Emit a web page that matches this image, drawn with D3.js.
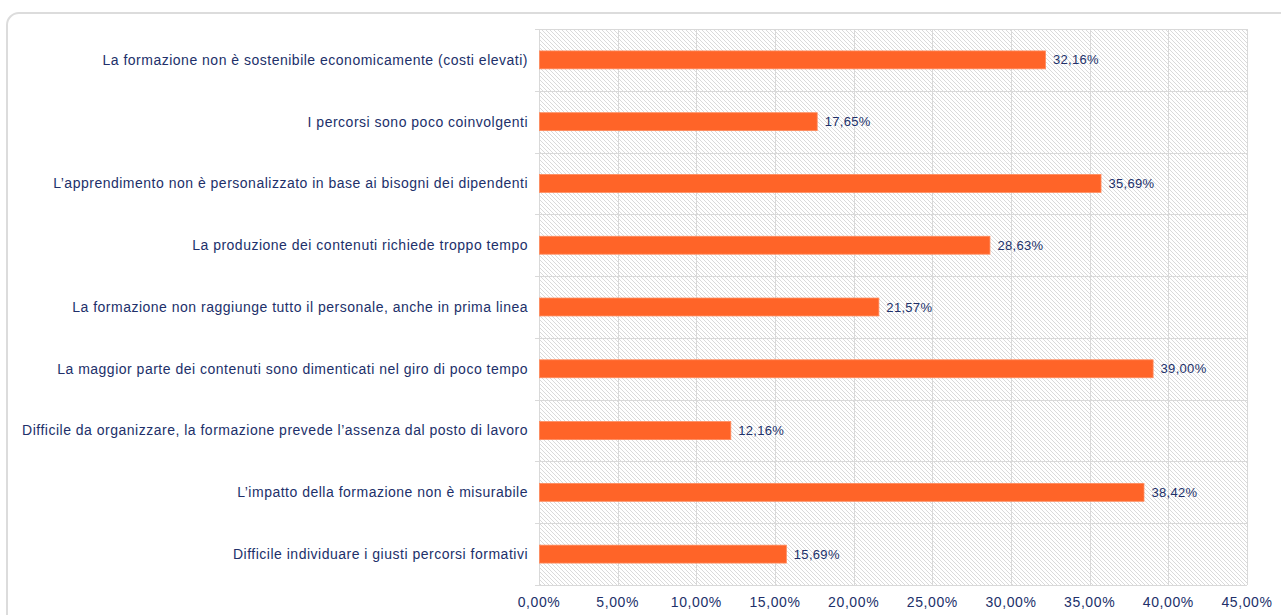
<!DOCTYPE html>
<html>
<head>
<meta charset="utf-8">
<script src="https://cdn.jsdelivr.net/npm/d3@7"></script>
<style>
  body { margin: 0; background: #fff; }
  text { font-family: "Liberation Sans", Arial, sans-serif; }
</style>
</head>
<body>
<div id="content"></div>
<script>
var width = 1281;
var height = 615;

var categories = [
    'La formazione non è sostenibile economicamente (costi elevati)',
    'I percorsi sono poco coinvolgenti',
    'L’apprendimento non è personalizzato in base ai bisogni dei dipendenti',
    'La produzione dei contenuti richiede troppo tempo',
    'La formazione non raggiunge tutto il personale, anche in prima linea',
    'La maggior parte dei contenuti sono dimenticati nel giro di poco tempo',
    'Difficile da organizzare, la formazione prevede l’assenza dal posto di lavoro',
    'L’impatto della formazione non è misurabile',
    'Difficile individuare i giusti percorsi formativi'
];
var values = [32.16, 17.65, 35.69, 28.63, 21.57, 39.00, 12.16, 38.42, 15.69];
var ticks = [0, 5, 10, 15, 20, 25, 30, 35, 40, 45];

var margin = {top: 29, right: 34, bottom: 30, left: 539};
var textColor = '#21306a';

var fmt = function(v){ return d3.format('.2f')(v).replace('.', ',') + '%'; };

var svg = d3.select('div#content').append('svg')
    .attr('width', width)
    .attr('height', height);

// hatch pattern
var defs = svg.append('defs');
defs.append('pattern')
    .attr('id', 'hatch')
    .attr('patternUnits', 'userSpaceOnUse')
    .attr('width', 4)
    .attr('height', 4)
  .append('path')
    .attr('d', 'M0,0 L4,4 M-1,3 L1,5 M3,-1 L5,1')
    .attr('stroke', '#dadada')
    .attr('stroke-width', 1);

// outer frame
svg.append('rect')
    .attr('x', 7).attr('y', 13)
    .attr('width', width + 20).attr('height', height + 20)
    .attr('rx', 12)
    .attr('fill', 'none')
    .attr('stroke', '#dcdcdc')
    .attr('stroke-width', 2);

var x = d3.scaleLinear()
    .domain([0, 45])
    .range([margin.left, width - margin.right]);

var y = d3.scaleBand()
    .domain(categories)
    .range([margin.top, height - margin.bottom])
    .paddingInner(0.71)
    .paddingOuter(0.355);

var yGrid = d3.scaleBand()
    .domain(categories)
    .range([margin.top, height - margin.bottom]);

var g = svg.append('g');

g.append('rect')
    .attr('x', x(0)).attr('y', margin.top)
    .attr('width', x(45) - x(0))
    .attr('height', height - margin.bottom - margin.top)
    .attr('fill', 'url(#hatch)');

// vertical gridlines
g.selectAll('line.vgrid')
    .data(ticks).enter()
    .append('line')
        .attr('class', 'vgrid')
        .attr('x1', function(d){ return Math.round(x(d)) + 0.5; })
        .attr('x2', function(d){ return Math.round(x(d)) + 0.5; })
        .attr('y1', margin.top)
        .attr('y2', height - margin.bottom)
        .attr('stroke', '#d9d9d9');

// horizontal gridlines at band edges, with ticks to the left
var edges = categories.map(function(c){ return yGrid(c); }).concat([height - margin.bottom]);
g.selectAll('line.hgrid')
    .data(edges).enter()
    .append('line')
        .attr('class', 'hgrid')
        .attr('x1', x(0) - 4)
        .attr('x2', x(45))
        .attr('y1', function(d){ return Math.round(d) + 0.5; })
        .attr('y2', function(d){ return Math.round(d) + 0.5; })
        .attr('stroke', '#d9d9d9');

// bars
g.selectAll('rect.bar')
    .data(values).enter()
    .append('rect')
        .attr('class', 'bar')
        .attr('x', x(0) + 0.5)
        .attr('y', function(d, i){ return y(categories[i]); })
        .attr('width', function(d){ return x(d) - x(0); })
        .attr('height', y.bandwidth())
        .attr('fill', '#ff6428')
        .attr('stroke', '#ff8a5c')
        .attr('stroke-width', 0.8);

// value labels
g.selectAll('text.val')
    .data(values).enter()
    .append('text')
        .attr('class', 'val')
        .attr('x', function(d){ return x(d) + 8; })
        .attr('y', function(d, i){ return y(categories[i]) + y.bandwidth() / 2; })
        .attr('dy', '0.35em')
        .attr('font-size', 13)
        .attr('letter-spacing', 0.3)
        .attr('fill', textColor)
        .text(fmt);

// category labels
g.selectAll('text.cat')
    .data(categories).enter()
    .append('text')
        .attr('class', 'cat')
        .attr('x', x(0) - 11)
        .attr('y', function(d){ return yGrid(d) + yGrid.bandwidth() / 2; })
        .attr('dy', '0.35em')
        .attr('text-anchor', 'end')
        .attr('font-size', 14)
        .attr('letter-spacing', 0.5)
        .attr('fill', textColor)
        .text(function(d){ return d; });

// x axis labels
g.selectAll('text.tick')
    .data(ticks).enter()
    .append('text')
        .attr('class', 'tick')
        .attr('x', function(d){ return x(d); })
        .attr('y', height - margin.bottom + 17)
        .attr('dy', '0.35em')
        .attr('text-anchor', 'middle')
        .attr('font-size', 14)
        .attr('letter-spacing', 0.6)
        .attr('fill', textColor)
        .text(fmt);
</script>
</body>
</html>
